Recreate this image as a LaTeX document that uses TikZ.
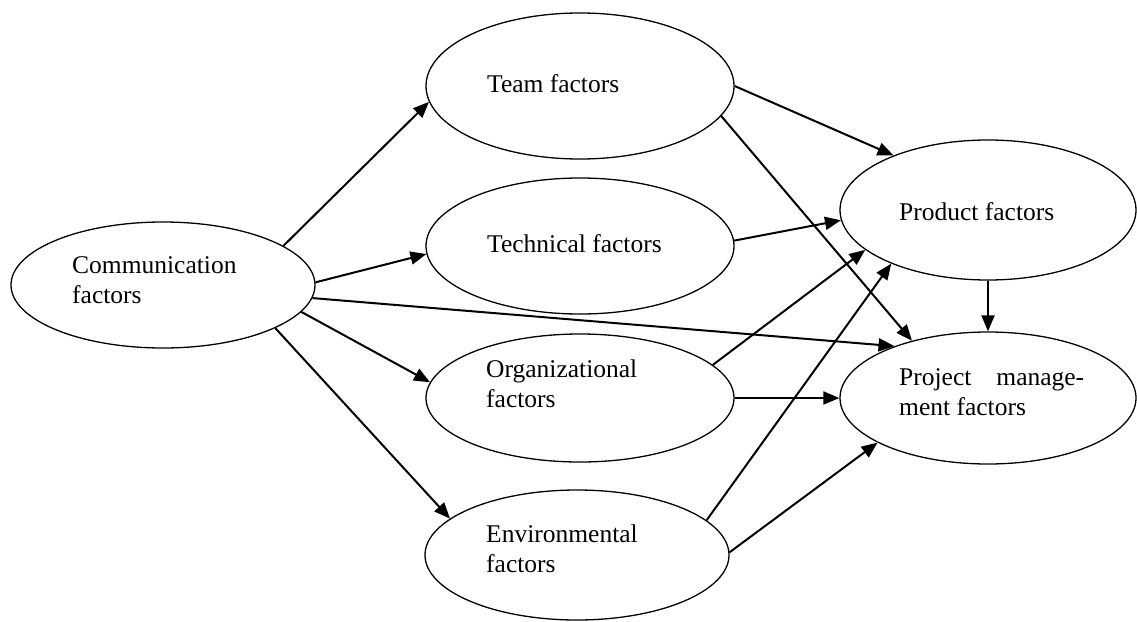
\documentclass[tikz,border=0pt]{standalone}
\usepackage{fontspec}
\setmainfont{Liberation Serif}
\usetikzlibrary{shapes.geometric,arrows.meta}
\begin{document}
\begin{tikzpicture}[x=1pt,y=-1pt,
  oval/.style={ellipse,draw,line width=1.3pt,inner sep=0pt},
  lbl/.style={anchor=base west,inner sep=0pt,font=\fontsize{25.5}{30}\selectfont},
  conn/.style={line width=2pt,-{Triangle[length=16pt,width=13pt]}}]
\path[fill=white,use as bounding box] (0,0) rectangle (1137,621);

% factor ovals
\node[oval,minimum width=304pt,minimum height=126pt] (comm) at (163,285) {};
\node[oval,minimum width=308pt,minimum height=146pt] (team) at (580,86) {};
\node[oval,minimum width=308pt,minimum height=136pt] (tech) at (580,246) {};
\node[oval,minimum width=308pt,minimum height=128pt] (org)  at (580,398) {};
\node[oval,minimum width=304pt,minimum height=130pt] (env)  at (577,555) {};
\node[oval,minimum width=296pt,minimum height=140pt] (prod) at (988,210) {};
\node[oval,minimum width=296pt,minimum height=132pt] (proj) at (988,398) {};

% labels
\node[lbl] (commT) at (72,273) {\begin{tabular}[t]{@{}l@{}}Communication\\factors\end{tabular}};
\node[lbl] (teamT) at (487,92) {Team factors};
\node[lbl] (techT) at (487,252) {Technical factors};
\node[lbl] (orgT)  at (486,377) {\begin{tabular}[t]{@{}l@{}}Organizational\\factors\end{tabular}};
\node[lbl] (envT)  at (486,542) {\begin{tabular}[t]{@{}l@{}}Environmental\\factors\end{tabular}};
\node[lbl] (prodT) at (899,220) {Product factors};
\node[lbl] (projT) at (899,385) {\begin{tabular}[t]{@{}l@{}}\makebox[185pt][s]{Project manage-}\\ment factors\end{tabular}};

% influences
\draw[conn] (comm.18)  -- (team.186);
\draw[conn] (comm.1)   -- (tech.183);
\draw[conn] (comm.-5)  -- (proj.151);
\draw[conn] (comm.-11) -- (org.174);
\draw[conn] (comm.-21) -- (env.164);
\draw[conn] (team.0)   -- (prod.150);
\draw[conn] (team.-12) -- (proj.143);
\draw[conn] (tech.2)   -- (prod.184);
\draw[conn] (org.14)   -- (prod.198);
\draw[conn] (org)      -- (proj);
\draw[conn] (env.15)   -- (prod.209);
\draw[conn] (env.1)    -- (proj.202);
\draw[conn] (prod)     -- (proj);
\end{tikzpicture}
\end{document}
